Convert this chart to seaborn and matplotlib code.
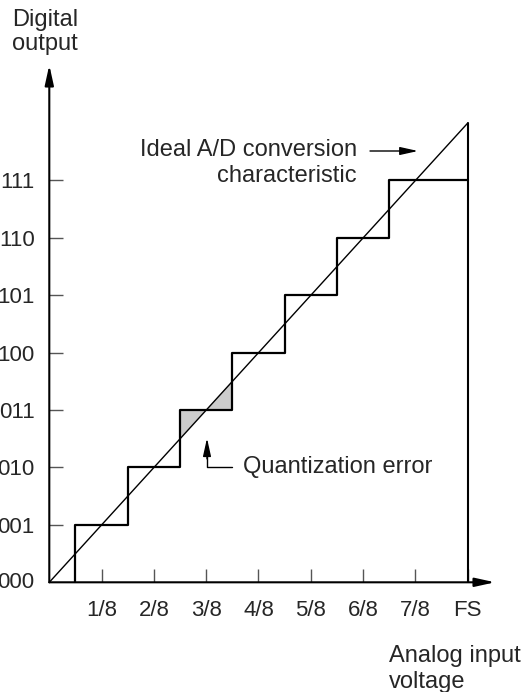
import numpy as np
import matplotlib
matplotlib.use("Agg")
import matplotlib.pyplot as plt
import seaborn as sns
import pandas as pd

# --- data ---
codes = ["000", "001", "010", "011", "100", "101", "110", "111"]
code_levels = [0, 1, 2, 3, 4, 5, 6, 7]
x_ticks = [1, 2, 3, 4, 5, 6, 7, 8]           # in units of FS/8
x_labels = ["1/8", "2/8", "3/8", "4/8", "5/8", "6/8", "7/8", "FS"]
step_edges = [0.5, 1.5, 2.5, 3.5, 4.5, 5.5, 6.5]  # transition voltages
step_codes = [1, 2, 3, 4, 5, 6, 7]
full_scale = 8
ideal_x = [0, 8]
ideal_y = [0, 8]
shaded_code = 3   # the step whose quantization error is shaded

# staircase vertices built from the transition table
sx, sy = [step_edges[0]], [0]
for i, (e, c) in enumerate(zip(step_edges, step_codes)):
    nxt = step_edges[i + 1] if i + 1 < len(step_edges) else full_scale
    sx += [e, nxt]
    sy += [c, c]
stairs = pd.DataFrame({"x": sx, "y": sy})
ideal = pd.DataFrame({"x": ideal_x, "y": ideal_y})

sns.set_theme(style="white")
plt.rcParams["font.family"] = ["Liberation Sans", "DejaVu Sans"]

W, H = 526, 692
fig = plt.figure(figsize=(W / 100, H / 100), dpi=100)
ax = fig.add_axes([0, 0, 1, 1])

# pixel layout: origin at (49.3, 582.3), 52.3 px per 1/8 FS, 57.4 px per code
ox, oy, ux, uy = 49.3, 582.3, 52.3, 57.4
ax.set_xlim(-ox / ux, (W - ox) / ux)
ax.set_ylim(-(H - oy) / uy, oy / uy)

def px(x):
    return (x - ox) / ux

def py(y):
    return (oy - y) / uy

# shaded quantization error for one code
e_lo = step_edges[step_codes.index(shaded_code)]
e_hi = step_edges[step_codes.index(shaded_code) + 1]
ax.fill([e_lo, e_lo, shaded_code], [e_lo, shaded_code, shaded_code],
        color="#cccccc", lw=0, zorder=1)
ax.fill([shaded_code, e_hi, e_hi], [shaded_code, shaded_code, e_hi],
        color="#cccccc", lw=0, zorder=1)

sns.lineplot(data=ideal, x="x", y="y", color="black", lw=1.0, ax=ax,
             estimator=None, sort=False, zorder=3)
sns.lineplot(data=stairs, x="x", y="y", color="black", lw=1.6, ax=ax,
             estimator=None, sort=False, zorder=3)
# FS vertical edge
ax.plot([full_scale, full_scale], [0, ideal_y[-1]], color="black", lw=1.5, zorder=3)

# axes as arrows
for sp in ax.spines.values():
    sp.set_color("none")
ax.spines["left"].set_position(("data", 0))
ax.spines["bottom"].set_position(("data", 0))
ap = dict(arrowstyle="-|>,head_length=1.0,head_width=0.22", color="black",
          lw=1.5, shrinkA=0, shrinkB=0)
ax.annotate("", xy=(0, py(65)), xytext=(0, 0), arrowprops=ap, zorder=4)
ax.annotate("", xy=(px(495), 0), xytext=(0, 0), arrowprops=ap, zorder=4)

ax.set_yticks(code_levels[1:])
ax.set_yticklabels(codes[1:])
ax.set_xticks(x_ticks)
ax.set_xticklabels(x_labels)
ax.tick_params(axis="y", direction="in", length=10, width=1.0, color="#555555",
               pad=10.5, labelsize=16, left=True)
ax.tick_params(axis="x", direction="in", length=9.5, width=1.0, color="#555555",
               pad=13, labelsize=16, bottom=True)
ax.text(-15.5 / ux, 0, codes[0], ha="right", va="center", fontsize=16)
ax.set_xlabel("")
ax.set_ylabel("")
ax.grid(False)

fs = 17
ax.text(px(12), py(50), "Digital\noutput", ha="left",
        va="baseline", fontsize=fs, linespacing=1.13)
ax.text(px(357), py(182), "Ideal A/D conversion\ncharacteristic",
        ha="right", va="baseline", fontsize=fs, linespacing=1.22)
ax.annotate("", xy=(px(418), py(151)), xytext=(px(370), py(151)),
            arrowprops=dict(arrowstyle="-|>,head_length=0.9,head_width=0.2",
                            color="black", lw=1.0, shrinkA=0, shrinkB=0))
ax.text(px(243), 2, "Quantization error", ha="left", va="center",
        fontsize=fs)
ax.plot([px(232), px(207), px(207)], [2, 2, 2.2], color="black", lw=1.0)
ax.annotate("", xy=(px(207), 2.51), xytext=(px(207), 2.15),
            arrowprops=dict(arrowstyle="-|>,head_length=0.9,head_width=0.2",
                            color="black", lw=1.0, shrinkA=0, shrinkB=0))
ax.text(px(389), py(688), "Analog input\nvoltage", ha="left",
        va="baseline", fontsize=fs, linespacing=1.22)

fig.savefig("out.png", dpi=100)
